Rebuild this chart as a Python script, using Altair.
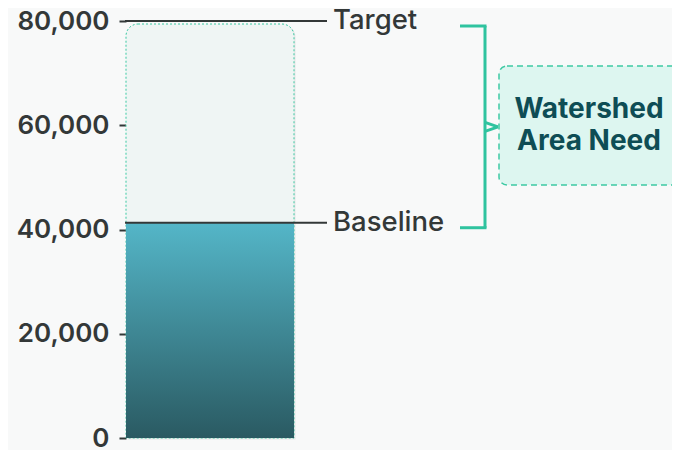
import altair as alt
import pandas as pd

# ---- data ----
markers = ["Target", "Baseline"]
marker_values = [80000, 41300]
annotation_lines = ["Watershed", "Area Need"]
y_ticks = [0, 20000, 40000, 60000, 80000]

target = marker_values[0]
baseline = marker_values[1]

df = pd.DataFrame({"label": markers, "value": marker_values})
bar_df = pd.DataFrame({
    "start": [0],
    "baseline": [baseline],
    "target": [target],
    "mid": [(target + baseline) / 2],
})

TEAL = "#2fc39f"
DARK = "#333838"
FONT = "Inter"

yscale = alt.Scale(domain=[0, 80000], nice=False)
yaxis = alt.Axis(
    values=y_ticks, format=",d", title=None, grid=False, domain=False,
    ticks=True, tickSize=7, tickWidth=2, tickColor=DARK, labelPadding=10,
    labelFontSize=26, labelFont=FONT, labelFontWeight=600, labelColor=DARK,
)

shadow = alt.Chart(bar_df).mark_rect(
    fill="#000000", opacity=0.07, cornerRadiusTopLeft=12, cornerRadiusTopRight=12,
    xOffset=1.5, x2Offset=1.5, yOffset=1.5, y2Offset=4,
).encode(
    x=alt.value(0), x2=alt.value(168),
    y=alt.Y("start:Q", scale=yscale, axis=yaxis),
    y2="target:Q",
)

target_box = alt.Chart(bar_df).mark_rect(
    fill="#eff5f4", stroke="#3cc9a3", strokeDash=[2, 2], strokeWidth=1,
    cornerRadiusTopLeft=12, cornerRadiusTopRight=12, y2Offset=3,
).encode(
    x=alt.value(0), x2=alt.value(168), y="start:Q", y2="target:Q",
)

grad = alt.Gradient(
    gradient="linear",
    stops=[alt.GradientStop(color="#54b6c8", offset=0),
           alt.GradientStop(color="#2a5a62", offset=1)],
    x1=0, x2=0, y1=0, y2=1,
)
bar = alt.Chart(bar_df).mark_rect(color=grad).encode(
    x=alt.value(0), x2=alt.value(168), y="start:Q", y2="baseline:Q",
)

lines = alt.Chart(df).mark_rule(color=DARK, strokeWidth=2).encode(
    x=alt.value(-1), x2=alt.value(201), y="value:Q",
)
labels = alt.Chart(df).mark_text(
    align="left", baseline="middle", fontSize=27.5, fontWeight=500,
    font=FONT, color=DARK,
).encode(x=alt.value(207), y="value:Q", text="label:N")

br_h = alt.Chart(df).mark_rule(color=TEAL, strokeWidth=3, yOffset=5).encode(
    x=alt.value(334), x2=alt.value(360.5), y="value:Q",
)
br_v = alt.Chart(bar_df).mark_rule(
    color=TEAL, strokeWidth=3, yOffset=5, y2Offset=5,
).encode(x=alt.value(359), y="baseline:Q", y2="target:Q")
notch1 = alt.Chart(bar_df).mark_rule(
    color=TEAL, strokeWidth=3, yOffset=0.5, y2Offset=5,
).encode(x=alt.value(359), x2=alt.value(372), y="mid:Q", y2="mid:Q")
notch2 = alt.Chart(bar_df).mark_rule(
    color=TEAL, strokeWidth=3, yOffset=9.5, y2Offset=5,
).encode(x=alt.value(359), x2=alt.value(372), y="mid:Q", y2="mid:Q")

abox = alt.Chart(bar_df).mark_rect(
    fill="#ddf6f0", stroke="#3cc9a3", strokeDash=[6, 4], strokeWidth=1.5,
    cornerRadius=8,
).encode(x=alt.value(373), x2=alt.value(560), y=alt.value(45), y2=alt.value(164))

atext = alt.Chart(bar_df).mark_text(
    text=annotation_lines, align="center", baseline="middle", lineHeight=31.5,
    fontSize=28, fontWeight=700, font=FONT, color="#0e4d55",
).encode(x=alt.value(463), y=alt.value(89))

chart = alt.layer(
    shadow, target_box, bar, lines, labels, br_h, br_v, notch1, notch2, abox, atext,
).properties(
    width=546, height=417,
    autosize=alt.AutoSizeParams(type="none"),
    padding={"left": 118, "top": 13, "right": 0, "bottom": 12},
    background="#f8f9f9",
).configure_view(stroke=None)

chart.save("out.html", embed_options={"renderer": "svg", "actions": False})
